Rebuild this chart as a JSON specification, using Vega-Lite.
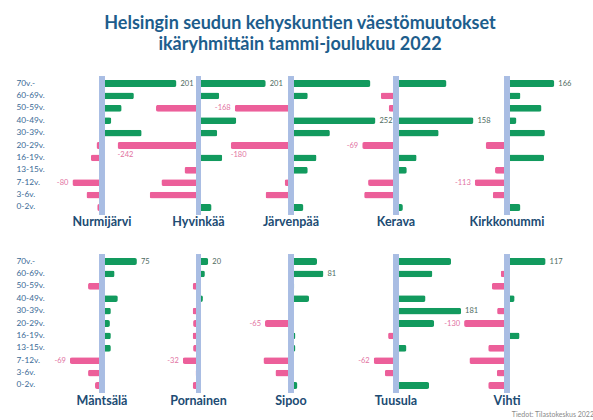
{
 "$schema": "https://vega.github.io/schema/vega-lite/v6.json",
 "padding": {"left": 16, "top": 14.5, "right": 2, "bottom": 2},
 "background": "white",
 "title": {"text": ["Helsingin seudun kehyskuntien väestömuutokset", "ikäryhmittäin tammi-joulukuu 2022"], "orient": "top", "anchor": "start", "align": "center", "dx": 248, "frame": "group", "fontSize": 18, "lineHeight": 21, "font": "Lato", "fontWeight": "bold", "color": "#1d5d8c", "offset": 20.5},
 "data": {"values": [
  {"m":"Nurmijärvi","a":"70v.-","v":201,"lab":1},{"m":"Nurmijärvi","a":"60-69v.","v":86},{"m":"Nurmijärvi","a":"50-59v.","v":53},{"m":"Nurmijärvi","a":"40-49v.","v":25},{"m":"Nurmijärvi","a":"30-39v.","v":107},{"m":"Nurmijärvi","a":"20-29v.","v":-15},{"m":"Nurmijärvi","a":"16-19v.","v":-30},{"m":"Nurmijärvi","a":"13-15v.","v":7},{"m":"Nurmijärvi","a":"7-12v.","v":-80,"lab":1},{"m":"Nurmijärvi","a":"3-6v.","v":-42},{"m":"Nurmijärvi","a":"0-2v.","v":-13},
  {"m":"Hyvinkää","a":"70v.-","v":201,"lab":1},{"m":"Hyvinkää","a":"60-69v.","v":62},{"m":"Hyvinkää","a":"50-59v.","v":-127},{"m":"Hyvinkää","a":"40-49v.","v":113},{"m":"Hyvinkää","a":"30-39v.","v":56},{"m":"Hyvinkää","a":"20-29v.","v":-242,"lab":1},{"m":"Hyvinkää","a":"16-19v.","v":71},{"m":"Hyvinkää","a":"13-15v.","v":-42},{"m":"Hyvinkää","a":"7-12v.","v":-111},{"m":"Hyvinkää","a":"3-6v.","v":-146},{"m":"Hyvinkää","a":"0-2v.","v":39},
  {"m":"Järvenpää","a":"70v.-","v":237},{"m":"Järvenpää","a":"60-69v.","v":50},{"m":"Järvenpää","a":"50-59v.","v":-168,"lab":1},{"m":"Järvenpää","a":"40-49v.","v":252,"lab":1},{"m":"Järvenpää","a":"30-39v.","v":116},{"m":"Järvenpää","a":"20-29v.","v":-180,"lab":1},{"m":"Järvenpää","a":"16-19v.","v":76},{"m":"Järvenpää","a":"13-15v.","v":50},{"m":"Järvenpää","a":"7-12v.","v":-19},{"m":"Järvenpää","a":"3-6v.","v":-76},{"m":"Järvenpää","a":"0-2v.","v":37},
  {"m":"Kerava","a":"70v.-","v":103},{"m":"Kerava","a":"60-69v.","v":-31},{"m":"Kerava","a":"50-59v.","v":-15},{"m":"Kerava","a":"40-49v.","v":158,"lab":1},{"m":"Kerava","a":"30-39v.","v":87},{"m":"Kerava","a":"20-29v.","v":-69,"lab":1},{"m":"Kerava","a":"16-19v.","v":42},{"m":"Kerava","a":"13-15v.","v":22},{"m":"Kerava","a":"7-12v.","v":-57},{"m":"Kerava","a":"3-6v.","v":-65},{"m":"Kerava","a":"0-2v.","v":14},
  {"m":"Kirkkonummi","a":"70v.-","v":166,"lab":1},{"m":"Kirkkonummi","a":"60-69v.","v":47},{"m":"Kirkkonummi","a":"50-59v.","v":121},{"m":"Kirkkonummi","a":"40-49v.","v":33},{"m":"Kirkkonummi","a":"30-39v.","v":133},{"m":"Kirkkonummi","a":"20-29v.","v":-75},{"m":"Kirkkonummi","a":"16-19v.","v":130},{"m":"Kirkkonummi","a":"13-15v.","v":-42},{"m":"Kirkkonummi","a":"7-12v.","v":-113,"lab":1},{"m":"Kirkkonummi","a":"3-6v.","v":-50},{"m":"Kirkkonummi","a":"0-2v.","v":47},
  {"m":"Mäntsälä","a":"70v.-","v":75,"lab":1},{"m":"Mäntsälä","a":"60-69v.","v":27},{"m":"Mäntsälä","a":"50-59v.","v":-30},{"m":"Mäntsälä","a":"40-49v.","v":34},{"m":"Mäntsälä","a":"30-39v.","v":19},{"m":"Mäntsälä","a":"20-29v.","v":17},{"m":"Mäntsälä","a":"16-19v.","v":19},{"m":"Mäntsälä","a":"13-15v.","v":19},{"m":"Mäntsälä","a":"7-12v.","v":-69,"lab":1},{"m":"Mäntsälä","a":"3-6v.","v":-30},{"m":"Mäntsälä","a":"0-2v.","v":-15},
  {"m":"Pornainen","a":"70v.-","v":20,"lab":1},{"m":"Pornainen","a":"60-69v.","v":13},{"m":"Pornainen","a":"50-59v.","v":-12},{"m":"Pornainen","a":"40-49v.","v":9},{"m":"Pornainen","a":"30-39v.","v":-12},{"m":"Pornainen","a":"20-29v.","v":-11},{"m":"Pornainen","a":"16-19v.","v":-12},{"m":"Pornainen","a":"13-15v.","v":-11},{"m":"Pornainen","a":"7-12v.","v":-32,"lab":1},{"m":"Pornainen","a":"3-6v.","v":-6},{"m":"Pornainen","a":"0-2v.","v":-12},
  {"m":"Sipoo","a":"70v.-","v":65},{"m":"Sipoo","a":"60-69v.","v":81,"lab":1},{"m":"Sipoo","a":"50-59v.","v":8},{"m":"Sipoo","a":"40-49v.","v":45},{"m":"Sipoo","a":"30-39v.","v":0},{"m":"Sipoo","a":"20-29v.","v":-65,"lab":1},{"m":"Sipoo","a":"16-19v.","v":11},{"m":"Sipoo","a":"13-15v.","v":11},{"m":"Sipoo","a":"7-12v.","v":-69},{"m":"Sipoo","a":"3-6v.","v":-39},{"m":"Sipoo","a":"0-2v.","v":16},
  {"m":"Tuusula","a":"70v.-","v":153},{"m":"Tuusula","a":"60-69v.","v":101},{"m":"Tuusula","a":"50-59v.","v":-8},{"m":"Tuusula","a":"40-49v.","v":82},{"m":"Tuusula","a":"30-39v.","v":181,"lab":1},{"m":"Tuusula","a":"20-29v.","v":106},{"m":"Tuusula","a":"16-19v.","v":-22},{"m":"Tuusula","a":"13-15v.","v":29},{"m":"Tuusula","a":"7-12v.","v":-62,"lab":1},{"m":"Tuusula","a":"3-6v.","v":-31},{"m":"Tuusula","a":"0-2v.","v":92},
  {"m":"Vihti","a":"70v.-","v":117,"lab":1},{"m":"Vihti","a":"60-69v.","v":-19},{"m":"Vihti","a":"50-59v.","v":-46},{"m":"Vihti","a":"40-49v.","v":23},{"m":"Vihti","a":"30-39v.","v":-30},{"m":"Vihti","a":"20-29v.","v":-130,"lab":1},{"m":"Vihti","a":"16-19v.","v":38},{"m":"Vihti","a":"13-15v.","v":-57},{"m":"Vihti","a":"7-12v.","v":-114},{"m":"Vihti","a":"3-6v.","v":-31},{"m":"Vihti","a":"0-2v.","v":-57}
 ]},
 "columns": 5,
 "spacing": {"row": 40, "column": 0},
 "bounds": "flush",
 "concat": [
   {"width": 100, "height": 138, "transform": [{"filter": "datum.m == 'Nurmijärvi'"}], "layer": [
    {"mark": {"type": "bar", "cornerRadius": 2}, "encoding": {"y": {"field": "a", "type": "nominal", "title": null, "scale": {"domain": ["70v.-","60-69v.","50-59v.","40-49v.","30-39v.","20-29v.","16-19v.","13-15v.","7-12v.","3-6v.","0-2v."], "paddingInner": 0.45, "paddingOuter": 0.29}}, "x": {"field": "v", "type": "quantitative", "axis": null, "scale": {"domain": [-135, 135], "nice": false}}, "color": {"condition": {"test": "datum.v < 0", "value": "#ec5f9a"}, "value": "#129a5e"}}},
    {"mark": {"type": "rule", "strokeWidth": 5, "color": "#a9bde3"}, "encoding": {"x": {"datum": 0, "type": "quantitative"}}},
    {"transform": [{"filter": "datum.lab == 1 && datum.v > 0"}], "mark": {"type": "text", "align": "left", "dx": 4, "fontSize": 7.5, "font": "Lato", "color": "#4d6a60"}, "encoding": {"y": {"field": "a", "type": "nominal"}, "x": {"field": "v", "type": "quantitative"}, "text": {"field": "v", "type": "nominal"}}},
    {"transform": [{"filter": "datum.lab == 1 && datum.v < 0 && datum.v > -170"}], "mark": {"type": "text", "align": "right", "dx": -4, "fontSize": 7.5, "font": "Lato", "color": "#e2729f"}, "encoding": {"y": {"field": "a", "type": "nominal"}, "x": {"field": "v", "type": "quantitative"}, "text": {"field": "v", "type": "nominal"}}},
    {"data": {"values": [{"n": "Nurmijärvi"}]}, "mark": {"type": "text", "baseline": "middle", "dy": 7.5, "fontSize": 12.5, "font": "Lato", "fontWeight": "bold", "color": "#204b73"}, "encoding": {"x": {"datum": 0, "type": "quantitative"}, "y": {"value": "height"}, "text": {"field": "n", "type": "nominal"}}}
   ]},
   {"width": 93, "height": 138, "transform": [{"filter": "datum.m == 'Hyvinkää'"}], "layer": [
    {"mark": {"type": "bar", "cornerRadius": 2}, "encoding": {"y": {"field": "a", "type": "nominal", "axis": null, "scale": {"domain": ["70v.-","60-69v.","50-59v.","40-49v.","30-39v.","20-29v.","16-19v.","13-15v.","7-12v.","3-6v.","0-2v."], "paddingInner": 0.45, "paddingOuter": 0.29}}, "x": {"field": "v", "type": "quantitative", "axis": null, "scale": {"domain": [-139, 139], "nice": false}}, "color": {"condition": {"test": "datum.v < 0", "value": "#ec5f9a"}, "value": "#129a5e"}}},
    {"mark": {"type": "rule", "strokeWidth": 5, "color": "#a9bde3"}, "encoding": {"x": {"datum": 0, "type": "quantitative"}}},
    {"transform": [{"filter": "datum.lab == 1 && datum.v > 0"}], "mark": {"type": "text", "align": "left", "dx": 4, "fontSize": 7.5, "font": "Lato", "color": "#4d6a60"}, "encoding": {"y": {"field": "a", "type": "nominal", "axis": null}, "x": {"field": "v", "type": "quantitative"}, "text": {"field": "v", "type": "nominal"}}},
    {"transform": [{"filter": "datum.lab == 1 && datum.v <= -170"}], "mark": {"type": "text", "align": "left", "dy": 9, "fontSize": 7.5, "font": "Lato", "color": "#e2729f"}, "encoding": {"y": {"field": "a", "type": "nominal", "axis": null}, "x": {"field": "v", "type": "quantitative"}, "text": {"field": "v", "type": "nominal"}}},
    {"data": {"values": [{"n": "Hyvinkää"}]}, "mark": {"type": "text", "baseline": "middle", "dy": 7.5, "fontSize": 12.5, "font": "Lato", "fontWeight": "bold", "color": "#204b73"}, "encoding": {"x": {"datum": 0, "type": "quantitative"}, "y": {"value": "height"}, "text": {"field": "n", "type": "nominal"}}}
   ]},
   {"width": 92, "height": 138, "transform": [{"filter": "datum.m == 'Järvenpää'"}], "layer": [
    {"mark": {"type": "bar", "cornerRadius": 2}, "encoding": {"y": {"field": "a", "type": "nominal", "axis": null, "scale": {"domain": ["70v.-","60-69v.","50-59v.","40-49v.","30-39v.","20-29v.","16-19v.","13-15v.","7-12v.","3-6v.","0-2v."], "paddingInner": 0.45, "paddingOuter": 0.29}}, "x": {"field": "v", "type": "quantitative", "axis": null, "scale": {"domain": [-137.3, 137.3], "nice": false}}, "color": {"condition": {"test": "datum.v < 0", "value": "#ec5f9a"}, "value": "#129a5e"}}},
    {"mark": {"type": "rule", "strokeWidth": 5, "color": "#a9bde3"}, "encoding": {"x": {"datum": 0, "type": "quantitative"}}},
    {"transform": [{"filter": "datum.lab == 1 && datum.v > 0"}], "mark": {"type": "text", "align": "left", "dx": 4, "fontSize": 7.5, "font": "Lato", "color": "#4d6a60"}, "encoding": {"y": {"field": "a", "type": "nominal", "axis": null}, "x": {"field": "v", "type": "quantitative"}, "text": {"field": "v", "type": "nominal"}}},
    {"transform": [{"filter": "datum.lab == 1 && datum.v < 0 && datum.v > -170"}], "mark": {"type": "text", "align": "right", "dx": -4, "fontSize": 7.5, "font": "Lato", "color": "#e2729f"}, "encoding": {"y": {"field": "a", "type": "nominal", "axis": null}, "x": {"field": "v", "type": "quantitative"}, "text": {"field": "v", "type": "nominal"}}},
    {"transform": [{"filter": "datum.lab == 1 && datum.v <= -170"}], "mark": {"type": "text", "align": "left", "dy": 9, "fontSize": 7.5, "font": "Lato", "color": "#e2729f"}, "encoding": {"y": {"field": "a", "type": "nominal", "axis": null}, "x": {"field": "v", "type": "quantitative"}, "text": {"field": "v", "type": "nominal"}}},
    {"data": {"values": [{"n": "Järvenpää"}]}, "mark": {"type": "text", "baseline": "middle", "dy": 7.5, "fontSize": 12.5, "font": "Lato", "fontWeight": "bold", "color": "#204b73"}, "encoding": {"x": {"datum": 0, "type": "quantitative"}, "y": {"value": "height"}, "text": {"field": "n", "type": "nominal"}}}
   ]},
   {"width": 118, "height": 138, "transform": [{"filter": "datum.m == 'Kerava'"}], "layer": [
    {"mark": {"type": "bar", "cornerRadius": 2}, "encoding": {"y": {"field": "a", "type": "nominal", "axis": null, "scale": {"domain": ["70v.-","60-69v.","50-59v.","40-49v.","30-39v.","20-29v.","16-19v.","13-15v.","7-12v.","3-6v.","0-2v."], "paddingInner": 0.45, "paddingOuter": 0.29}}, "x": {"field": "v", "type": "quantitative", "axis": null, "scale": {"domain": [-120.4, 120.4], "nice": false}}, "color": {"condition": {"test": "datum.v < 0", "value": "#ec5f9a"}, "value": "#129a5e"}}},
    {"mark": {"type": "rule", "strokeWidth": 5, "color": "#a9bde3"}, "encoding": {"x": {"datum": 0, "type": "quantitative"}}},
    {"transform": [{"filter": "datum.lab == 1 && datum.v > 0"}], "mark": {"type": "text", "align": "left", "dx": 4, "fontSize": 7.5, "font": "Lato", "color": "#4d6a60"}, "encoding": {"y": {"field": "a", "type": "nominal", "axis": null}, "x": {"field": "v", "type": "quantitative"}, "text": {"field": "v", "type": "nominal"}}},
    {"transform": [{"filter": "datum.lab == 1 && datum.v < 0 && datum.v > -170"}], "mark": {"type": "text", "align": "right", "dx": -4, "fontSize": 7.5, "font": "Lato", "color": "#e2729f"}, "encoding": {"y": {"field": "a", "type": "nominal", "axis": null}, "x": {"field": "v", "type": "quantitative"}, "text": {"field": "v", "type": "nominal"}}},
    {"data": {"values": [{"n": "Kerava"}]}, "mark": {"type": "text", "baseline": "middle", "dy": 7.5, "fontSize": 12.5, "font": "Lato", "fontWeight": "bold", "color": "#204b73"}, "encoding": {"x": {"datum": 0, "type": "quantitative"}, "y": {"value": "height"}, "text": {"field": "n", "type": "nominal"}}}
   ]},
   {"width": 104, "height": 138, "transform": [{"filter": "datum.m == 'Kirkkonummi'"}], "layer": [
    {"mark": {"type": "bar", "cornerRadius": 2}, "encoding": {"y": {"field": "a", "type": "nominal", "axis": null, "scale": {"domain": ["70v.-","60-69v.","50-59v.","40-49v.","30-39v.","20-29v.","16-19v.","13-15v.","7-12v.","3-6v.","0-2v."], "paddingInner": 0.45, "paddingOuter": 0.29}}, "x": {"field": "v", "type": "quantitative", "axis": null, "scale": {"domain": [-182.5, 182.5], "nice": false}}, "color": {"condition": {"test": "datum.v < 0", "value": "#ec5f9a"}, "value": "#129a5e"}}},
    {"mark": {"type": "rule", "strokeWidth": 5, "color": "#a9bde3"}, "encoding": {"x": {"datum": 0, "type": "quantitative"}}},
    {"transform": [{"filter": "datum.lab == 1 && datum.v > 0"}], "mark": {"type": "text", "align": "left", "dx": 4, "fontSize": 7.5, "font": "Lato", "color": "#4d6a60"}, "encoding": {"y": {"field": "a", "type": "nominal", "axis": null}, "x": {"field": "v", "type": "quantitative"}, "text": {"field": "v", "type": "nominal"}}},
    {"transform": [{"filter": "datum.lab == 1 && datum.v < 0 && datum.v > -170"}], "mark": {"type": "text", "align": "right", "dx": -4, "fontSize": 7.5, "font": "Lato", "color": "#e2729f"}, "encoding": {"y": {"field": "a", "type": "nominal", "axis": null}, "x": {"field": "v", "type": "quantitative"}, "text": {"field": "v", "type": "nominal"}}},
    {"data": {"values": [{"n": "Kirkkonummi"}]}, "mark": {"type": "text", "baseline": "middle", "dy": 7.5, "fontSize": 12.5, "font": "Lato", "fontWeight": "bold", "color": "#204b73"}, "encoding": {"x": {"datum": 0, "type": "quantitative"}, "y": {"value": "height"}, "text": {"field": "n", "type": "nominal"}}}
   ]},
   {"width": 100, "height": 138, "transform": [{"filter": "datum.m == 'Mäntsälä'"}], "layer": [
    {"mark": {"type": "bar", "cornerRadius": 2}, "encoding": {"y": {"field": "a", "type": "nominal", "title": null, "scale": {"domain": ["70v.-","60-69v.","50-59v.","40-49v.","30-39v.","20-29v.","16-19v.","13-15v.","7-12v.","3-6v.","0-2v."], "paddingInner": 0.45, "paddingOuter": 0.29}}, "x": {"field": "v", "type": "quantitative", "axis": null, "scale": {"domain": [-107.5, 107.5], "nice": false}}, "color": {"condition": {"test": "datum.v < 0", "value": "#ec5f9a"}, "value": "#129a5e"}}},
    {"mark": {"type": "rule", "strokeWidth": 5, "color": "#a9bde3"}, "encoding": {"x": {"datum": 0, "type": "quantitative"}}},
    {"transform": [{"filter": "datum.lab == 1 && datum.v > 0"}], "mark": {"type": "text", "align": "left", "dx": 4, "fontSize": 7.5, "font": "Lato", "color": "#4d6a60"}, "encoding": {"y": {"field": "a", "type": "nominal"}, "x": {"field": "v", "type": "quantitative"}, "text": {"field": "v", "type": "nominal"}}},
    {"transform": [{"filter": "datum.lab == 1 && datum.v < 0 && datum.v > -170"}], "mark": {"type": "text", "align": "right", "dx": -4, "fontSize": 7.5, "font": "Lato", "color": "#e2729f"}, "encoding": {"y": {"field": "a", "type": "nominal"}, "x": {"field": "v", "type": "quantitative"}, "text": {"field": "v", "type": "nominal"}}},
    {"data": {"values": [{"n": "Mäntsälä"}]}, "mark": {"type": "text", "baseline": "middle", "dy": 8, "fontSize": 12.5, "font": "Lato", "fontWeight": "bold", "color": "#204b73"}, "encoding": {"x": {"datum": 0, "type": "quantitative"}, "y": {"value": "height"}, "text": {"field": "n", "type": "nominal"}}}
   ]},
   {"width": 93, "height": 138, "transform": [{"filter": "datum.m == 'Pornainen'"}], "layer": [
    {"mark": {"type": "bar", "cornerRadius": 2}, "encoding": {"y": {"field": "a", "type": "nominal", "axis": null, "scale": {"domain": ["70v.-","60-69v.","50-59v.","40-49v.","30-39v.","20-29v.","16-19v.","13-15v.","7-12v.","3-6v.","0-2v."], "paddingInner": 0.45, "paddingOuter": 0.29}}, "x": {"field": "v", "type": "quantitative", "axis": null, "scale": {"domain": [-95, 95], "nice": false}}, "color": {"condition": {"test": "datum.v < 0", "value": "#ec5f9a"}, "value": "#129a5e"}}},
    {"mark": {"type": "rule", "strokeWidth": 5, "color": "#a9bde3"}, "encoding": {"x": {"datum": 0, "type": "quantitative"}}},
    {"transform": [{"filter": "datum.lab == 1 && datum.v > 0"}], "mark": {"type": "text", "align": "left", "dx": 4, "fontSize": 7.5, "font": "Lato", "color": "#4d6a60"}, "encoding": {"y": {"field": "a", "type": "nominal", "axis": null}, "x": {"field": "v", "type": "quantitative"}, "text": {"field": "v", "type": "nominal"}}},
    {"transform": [{"filter": "datum.lab == 1 && datum.v < 0 && datum.v > -170"}], "mark": {"type": "text", "align": "right", "dx": -4, "fontSize": 7.5, "font": "Lato", "color": "#e2729f"}, "encoding": {"y": {"field": "a", "type": "nominal", "axis": null}, "x": {"field": "v", "type": "quantitative"}, "text": {"field": "v", "type": "nominal"}}},
    {"data": {"values": [{"n": "Pornainen"}]}, "mark": {"type": "text", "baseline": "middle", "dy": 8, "fontSize": 12.5, "font": "Lato", "fontWeight": "bold", "color": "#204b73"}, "encoding": {"x": {"datum": 0, "type": "quantitative"}, "y": {"value": "height"}, "text": {"field": "n", "type": "nominal"}}}
   ]},
   {"width": 92, "height": 138, "transform": [{"filter": "datum.m == 'Sipoo'"}], "layer": [
    {"mark": {"type": "bar", "cornerRadius": 2}, "encoding": {"y": {"field": "a", "type": "nominal", "axis": null, "scale": {"domain": ["70v.-","60-69v.","50-59v.","40-49v.","30-39v.","20-29v.","16-19v.","13-15v.","7-12v.","3-6v.","0-2v."], "paddingInner": 0.45, "paddingOuter": 0.29}}, "x": {"field": "v", "type": "quantitative", "axis": null, "scale": {"domain": [-115, 115], "nice": false}}, "color": {"condition": {"test": "datum.v < 0", "value": "#ec5f9a"}, "value": "#129a5e"}}},
    {"mark": {"type": "rule", "strokeWidth": 5, "color": "#a9bde3"}, "encoding": {"x": {"datum": 0, "type": "quantitative"}}},
    {"transform": [{"filter": "datum.lab == 1 && datum.v > 0"}], "mark": {"type": "text", "align": "left", "dx": 4, "fontSize": 7.5, "font": "Lato", "color": "#4d6a60"}, "encoding": {"y": {"field": "a", "type": "nominal", "axis": null}, "x": {"field": "v", "type": "quantitative"}, "text": {"field": "v", "type": "nominal"}}},
    {"transform": [{"filter": "datum.lab == 1 && datum.v < 0 && datum.v > -170"}], "mark": {"type": "text", "align": "right", "dx": -4, "fontSize": 7.5, "font": "Lato", "color": "#e2729f"}, "encoding": {"y": {"field": "a", "type": "nominal", "axis": null}, "x": {"field": "v", "type": "quantitative"}, "text": {"field": "v", "type": "nominal"}}},
    {"data": {"values": [{"n": "Sipoo"}]}, "mark": {"type": "text", "baseline": "middle", "dy": 8, "fontSize": 12.5, "font": "Lato", "fontWeight": "bold", "color": "#204b73"}, "encoding": {"x": {"datum": 0, "type": "quantitative"}, "y": {"value": "height"}, "text": {"field": "n", "type": "nominal"}}}
   ]},
   {"width": 118, "height": 138, "transform": [{"filter": "datum.m == 'Tuusula'"}], "layer": [
    {"mark": {"type": "bar", "cornerRadius": 2}, "encoding": {"y": {"field": "a", "type": "nominal", "axis": null, "scale": {"domain": ["70v.-","60-69v.","50-59v.","40-49v.","30-39v.","20-29v.","16-19v.","13-15v.","7-12v.","3-6v.","0-2v."], "paddingInner": 0.45, "paddingOuter": 0.29}}, "x": {"field": "v", "type": "quantitative", "axis": null, "scale": {"domain": [-164, 164], "nice": false}}, "color": {"condition": {"test": "datum.v < 0", "value": "#ec5f9a"}, "value": "#129a5e"}}},
    {"mark": {"type": "rule", "strokeWidth": 5, "color": "#a9bde3"}, "encoding": {"x": {"datum": 0, "type": "quantitative"}}},
    {"transform": [{"filter": "datum.lab == 1 && datum.v > 0"}], "mark": {"type": "text", "align": "left", "dx": 4, "fontSize": 7.5, "font": "Lato", "color": "#4d6a60"}, "encoding": {"y": {"field": "a", "type": "nominal", "axis": null}, "x": {"field": "v", "type": "quantitative"}, "text": {"field": "v", "type": "nominal"}}},
    {"transform": [{"filter": "datum.lab == 1 && datum.v < 0 && datum.v > -170"}], "mark": {"type": "text", "align": "right", "dx": -4, "fontSize": 7.5, "font": "Lato", "color": "#e2729f"}, "encoding": {"y": {"field": "a", "type": "nominal", "axis": null}, "x": {"field": "v", "type": "quantitative"}, "text": {"field": "v", "type": "nominal"}}},
    {"data": {"values": [{"n": "Tuusula"}]}, "mark": {"type": "text", "baseline": "middle", "dy": 8, "fontSize": 12.5, "font": "Lato", "fontWeight": "bold", "color": "#204b73"}, "encoding": {"x": {"datum": 0, "type": "quantitative"}, "y": {"value": "height"}, "text": {"field": "n", "type": "nominal"}}}
   ]},
   {"width": 104, "height": 138, "transform": [{"filter": "datum.m == 'Vihti'"}], "layer": [
    {"mark": {"type": "bar", "cornerRadius": 2}, "encoding": {"y": {"field": "a", "type": "nominal", "axis": null, "scale": {"domain": ["70v.-","60-69v.","50-59v.","40-49v.","30-39v.","20-29v.","16-19v.","13-15v.","7-12v.","3-6v.","0-2v."], "paddingInner": 0.45, "paddingOuter": 0.29}}, "x": {"field": "v", "type": "quantitative", "axis": null, "scale": {"domain": [-157.6, 157.6], "nice": false}}, "color": {"condition": {"test": "datum.v < 0", "value": "#ec5f9a"}, "value": "#129a5e"}}},
    {"mark": {"type": "rule", "strokeWidth": 5, "color": "#a9bde3"}, "encoding": {"x": {"datum": 0, "type": "quantitative"}}},
    {"transform": [{"filter": "datum.lab == 1 && datum.v > 0"}], "mark": {"type": "text", "align": "left", "dx": 4, "fontSize": 7.5, "font": "Lato", "color": "#4d6a60"}, "encoding": {"y": {"field": "a", "type": "nominal", "axis": null}, "x": {"field": "v", "type": "quantitative"}, "text": {"field": "v", "type": "nominal"}}},
    {"transform": [{"filter": "datum.lab == 1 && datum.v < 0 && datum.v > -170"}], "mark": {"type": "text", "align": "right", "dx": -4, "fontSize": 7.5, "font": "Lato", "color": "#e2729f"}, "encoding": {"y": {"field": "a", "type": "nominal", "axis": null}, "x": {"field": "v", "type": "quantitative"}, "text": {"field": "v", "type": "nominal"}}},
    {"data": {"values": [{"n": "Vihti"}]}, "mark": {"type": "text", "baseline": "middle", "dy": 8, "fontSize": 12.5, "font": "Lato", "fontWeight": "bold", "color": "#204b73"}, "encoding": {"x": {"datum": 0, "type": "quantitative"}, "y": {"value": "height"}, "text": {"field": "n", "type": "nominal"}}},
    {"data": {"values": [{"t": "Tiedot: Tilastokeskus 2022"}]}, "mark": {"type": "text", "align": "right", "baseline": "middle", "dx": 35, "dy": 22, "fontSize": 7, "font": "Lato", "color": "#8a8a8a"}, "encoding": {"x": {"value": "width"}, "y": {"value": "height"}, "text": {"field": "t", "type": "nominal"}}}
   ]}
 ],
 "resolve": {"scale": {"x": "independent", "y": "independent"}},
 "config": {
  "view": {"stroke": null},
  "axisY": {"labelAlign": "left", "labelPadding": 36, "domain": false, "ticks": false, "labelFontSize": 8.3, "labelFont": "Lato", "labelColor": "#3b6a96", "grid": false}
 }
}
